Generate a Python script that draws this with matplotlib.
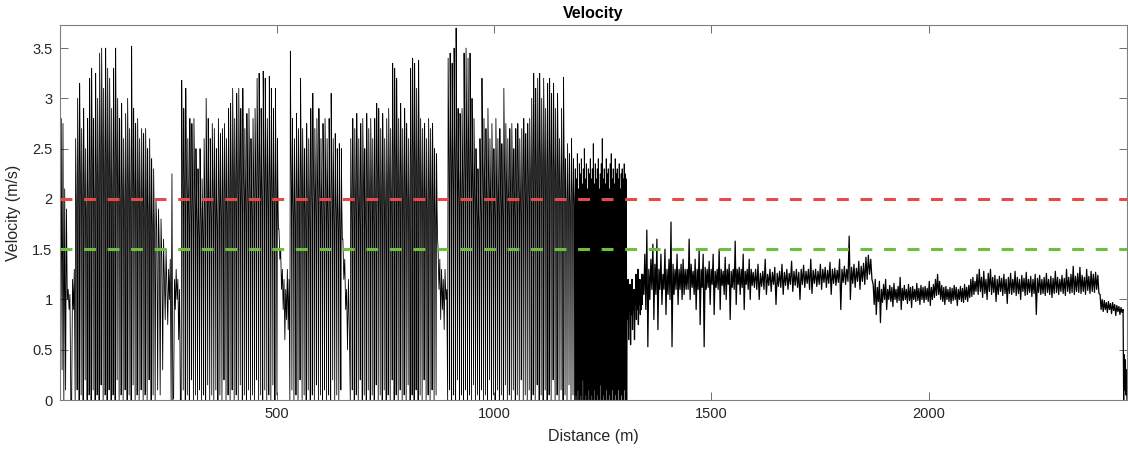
import numpy as np
import matplotlib
matplotlib.use("Agg")
import matplotlib.pyplot as plt

plt.rcParams['font.family'] = ['Liberation Sans', 'DejaVu Sans']

# ---- data: (start distance, end distance) of each recorded stretch and its velocity samples ----
seg_A = (0, 36)
v_A = [2.4, 0, 2.8, 0.3, 2.75, 0, 2.1, 0.1, 1.9, 1.0, 1.1, 0.9, 1.05, 0.0, 0.0, 1.2, 0.9, 1.3]

seg_B = (36, 220)
v_B = [0, 2.6, 2.1, 1.7, 0.1, 3.0, 2.4, 1.9, 0, 3.15, 2.5, 2.0, 0.05, 2.7, 2.2, 1.8,
       0, 2.9, 2.3, 1.9, 0.2, 2.5, 2.0, 1.6, 0, 2.8, 2.2, 1.8, 0.05, 3.2, 2.5, 2.0,
       0, 3.3, 2.6, 2.1, 0.1, 2.8, 2.2, 1.8, 0, 3.25, 2.5, 2.0, 0.05, 3.0, 2.4, 1.9,
       0, 3.45, 2.7, 2.1, 0.15, 3.5, 2.8, 2.2, 0, 3.1, 2.5, 2.0, 0.05, 3.5, 2.7, 2.1,
       0, 3.3, 2.6, 2.0, 0.1, 3.2, 2.5, 1.9, 0, 2.9, 2.3, 1.8, 0.05, 3.3, 2.6, 2.1,
       0, 3.5, 2.7, 2.2, 0.2, 3.0, 2.4, 1.9, 0, 2.8, 2.2, 1.8, 0.05, 2.95, 2.3, 1.9,
       0, 2.6, 2.1, 1.7, 0.1, 2.85, 2.3, 1.8, 0, 3.0, 2.4, 1.9, 0.05, 2.7, 2.2, 1.8,
       0, 3.52, 2.6, 2.0, 0.15, 2.9, 2.3, 1.9, 0, 2.75, 2.2, 1.8, 0.05, 2.8, 2.3, 1.9,
       0, 2.6, 2.1, 1.7, 0.1, 2.7, 2.2, 1.8, 0, 2.65, 2.1, 1.7, 0.05, 2.7, 2.2, 1.8,
       0, 2.5, 2.0, 1.7, 0.2, 2.6, 2.1, 1.6, 0, 2.4, 1.9, 1.6, 0.05, 2.3, 1.9, 1.5]

seg_C = (220, 280)
v_C = [0, 2.0, 1.7, 0.1, 1.9, 1.5, 0.05, 1.8, 1.4, 0.3, 1.6, 1.2, 0.8, 1.5, 1.1, 0.75, 1.3,
       1.0, 1.4, 0, 2.25, 0, 0.02, 1.2, 0.9, 1.3, 1.0, 1.2, 0.6, 1.1, 0]

seg_D = (280, 505)
v_D = [0, 3.18, 2.5, 2.0, 0.1, 2.9, 2.3, 1.9, 0, 3.1, 2.4, 2.0, 0.05, 2.6, 2.1, 1.7,
       0, 2.8, 2.2, 1.8, 0.2, 2.75, 2.2, 1.8, 0, 2.8, 2.3, 1.9, 0.05, 2.5, 2.0, 1.7,
       0, 2.3, 1.9, 1.6, 0.1, 2.5, 2.0, 1.7, 0, 2.2, 1.9, 1.6, 0.05, 2.6, 2.1, 1.7,
       0, 3.0, 2.4, 1.9, 0.15, 2.8, 2.2, 1.8, 0, 2.6, 2.1, 1.8, 0.05, 2.75, 2.3, 1.9,
       0, 2.7, 2.2, 1.8, 0.1, 2.5, 2.0, 1.7, 0, 2.8, 2.3, 1.9, 0.05, 2.65, 2.1, 1.8,
       0, 2.7, 2.2, 1.8, 0.2, 2.75, 2.3, 1.9, 0, 2.6, 2.1, 1.7, 0.05, 2.9, 2.3, 1.9,
       0, 2.95, 2.4, 2.0, 0.1, 3.1, 2.5, 2.0, 0, 2.8, 2.3, 1.9, 0.05, 3.05, 2.4, 2.0,
       0, 3.1, 2.5, 2.0, 0.15, 2.9, 2.3, 1.9, 0, 3.1, 2.4, 2.0, 0.05, 2.7, 2.2, 1.8,
       0, 2.85, 2.3, 1.9, 0.1, 2.9, 2.4, 1.9, 0, 2.6, 2.1, 1.8, 0.05, 2.8, 2.3, 1.9,
       0, 2.9, 2.4, 2.0, 0.2, 3.2, 2.6, 2.1, 0, 3.25, 2.6, 2.1, 0.05, 2.9, 2.3, 1.9,
       0, 3.27, 2.6, 2.1, 0.1, 3.2, 2.5, 2.0, 0, 2.8, 2.3, 1.9, 0.05, 3.22, 2.5, 2.0,
       0, 3.1, 2.4, 1.9, 0.15, 2.9, 2.3, 1.9, 0, 3.1, 2.4, 1.9, 0.05, 2.6, 2.0, 1.7]

seg_E = (505, 530)
v_E = [1.7, 1.4, 1.5, 1.1, 1.3, 0.9, 1.2, 0.6, 1.1, 0.8, 1.3, 0.7, 1.2]

seg_F = (530, 652)
v_F = [0, 3.47, 2.6, 2.1, 0.1, 2.8, 2.2, 1.8, 0, 2.6, 2.1, 1.7, 0.05, 2.85, 2.3, 1.9,
       0, 2.7, 2.2, 1.8, 0.2, 3.2, 2.5, 2.0, 0, 2.7, 2.2, 1.8, 0.05, 2.5, 2.0, 1.7,
       0, 2.75, 2.2, 1.8, 0.1, 2.6, 2.1, 1.7, 0, 2.9, 2.3, 1.9, 0.05, 3.05, 2.4, 2.0,
       0, 2.7, 2.2, 1.8, 0.15, 2.8, 2.3, 1.9, 0, 2.9, 2.3, 1.9, 0.05, 2.6, 2.1, 1.7,
       0, 2.75, 2.2, 1.8, 0.1, 2.8, 2.3, 1.9, 0, 2.6, 2.1, 1.7, 0.05, 2.8, 2.2, 1.8,
       0, 3.05, 2.4, 1.9, 0.2, 2.6, 2.1, 1.7, 0, 2.65, 2.1, 1.8, 0.05, 2.5, 2.0, 1.7,
       0, 2.55, 2.0, 1.6, 0.1, 2.5, 1.9, 1.6]

seg_G = (652, 669)
v_G = [1.6, 1.2, 1.4, 0.9, 1.1, 0.5, 1.2, 0.7]

seg_H = (669, 871)
v_H = [0, 2.6, 2.1, 1.7, 0.1, 2.8, 2.2, 1.8, 0, 2.7, 2.2, 1.8, 0.05, 2.85, 2.3, 1.9,
       0, 2.6, 2.1, 1.7, 0.2, 2.75, 2.2, 1.8, 0, 2.8, 2.3, 1.9, 0.05, 2.5, 2.0, 1.7,
       0, 2.85, 2.3, 1.9, 0.1, 2.7, 2.2, 1.8, 0, 2.8, 2.3, 1.9, 0.05, 2.6, 2.1, 1.7,
       0, 2.8, 2.2, 1.8, 0.15, 2.95, 2.4, 2.0, 0, 2.9, 2.3, 1.9, 0.05, 2.7, 2.2, 1.8,
       0, 2.85, 2.3, 1.9, 0.1, 2.6, 2.1, 1.7, 0, 2.8, 2.3, 1.9, 0.05, 2.9, 2.4, 2.0,
       0, 2.7, 2.2, 1.8, 0.2, 3.35, 2.6, 2.1, 0, 3.3, 2.6, 2.1, 0.05, 3.2, 2.5, 2.0,
       0, 2.8, 2.3, 1.9, 0.1, 2.95, 2.4, 2.0, 0, 2.7, 2.2, 1.8, 0.05, 2.9, 2.3, 1.9,
       0, 2.75, 2.2, 1.8, 0.15, 2.6, 2.1, 1.7, 0, 3.3, 2.6, 2.1, 0.05, 3.4, 2.7, 2.2,
       0, 3.35, 2.6, 2.1, 0.1, 3.1, 2.5, 2.0, 0, 3.38, 2.6, 2.1, 0.05, 2.8, 2.3, 1.9,
       0, 2.7, 2.2, 1.8, 0.2, 2.75, 2.2, 1.8, 0, 2.6, 2.1, 1.7, 0.05, 2.8, 2.3, 1.9,
       0, 2.7, 2.2, 1.8, 0.1, 2.75, 2.2, 1.8, 0, 2.5, 2.0, 1.7, 0.05, 2.45, 1.9, 1.6]

seg_I = (871, 893)
v_I = [1.5, 1.1, 1.4, 0.8, 1.3, 0.9, 1.2, 0.7, 1.3, 1.0, 1.1]

seg_J = (893, 1186)
v_J = [0, 3.4, 2.7, 2.1, 0.1, 3.45, 2.7, 2.2, 0, 3.35, 2.6, 2.1, 0.05, 3.5, 2.7, 2.2,
       0, 3.7, 2.8, 2.2, 0.2, 2.9, 2.3, 1.9, 0, 2.85, 2.3, 1.9, 0.05, 2.9, 2.4, 2.0,
       0, 3.45, 2.7, 2.2, 0.1, 3.5, 2.8, 2.2, 0, 3.4, 2.7, 2.1, 0.05, 3.45, 2.7, 2.2,
       0, 3.0, 2.4, 2.0, 0.15, 2.8, 2.3, 1.9, 0, 2.5, 2.1, 1.8, 0.05, 2.3, 1.9, 1.7,
       0, 2.6, 2.1, 1.8, 0.1, 3.2, 2.5, 2.0, 0, 2.8, 2.3, 1.9, 0.05, 2.7, 2.2, 1.9,
       0, 2.9, 2.4, 2.0, 0.2, 2.6, 2.2, 1.8, 0, 2.75, 2.3, 1.9, 0.05, 2.5, 2.1, 1.8,
       0, 2.8, 2.3, 1.9, 0.1, 2.6, 2.2, 1.8, 0, 2.7, 2.2, 1.9, 0.05, 2.55, 2.1, 1.8,
       0, 3.1, 2.5, 2.0, 0.15, 2.75, 2.3, 1.9, 0, 2.6, 2.2, 1.8, 0.05, 2.7, 2.2, 1.9,
       0, 2.75, 2.3, 1.9, 0.1, 2.5, 2.1, 1.8, 0, 2.7, 2.2, 1.9, 0.05, 2.75, 2.3, 2.0,
       0, 2.6, 2.2, 1.8, 0.2, 2.7, 2.3, 1.9, 0, 2.8, 2.3, 2.0, 0.05, 2.65, 2.2, 1.9,
       0, 2.75, 2.3, 2.0, 0.1, 2.8, 2.4, 2.0, 0, 3.0, 2.5, 2.1, 0.05, 3.25, 2.6, 2.1,
       0, 3.1, 2.5, 2.1, 0.15, 3.2, 2.6, 2.1, 0, 3.25, 2.6, 2.2, 0.05, 3.0, 2.5, 2.1,
       0, 3.2, 2.6, 2.1, 0.1, 2.9, 2.4, 2.0, 0, 3.15, 2.5, 2.1, 0.05, 3.2, 2.6, 2.2,
       0, 3.05, 2.5, 2.1, 0.2, 3.15, 2.5, 2.1, 0, 2.9, 2.4, 2.0, 0.05, 3.05, 2.5, 2.1,
       0, 2.6, 2.3, 2.0, 0.1, 2.9, 2.4, 2.0, 0, 3.21, 2.5, 2.1, 0.05, 2.4, 2.1, 1.9,
       0, 2.55, 2.2, 1.9, 0.15, 2.45, 2.1, 1.9, 0, 2.6, 2.2, 2.0, 0.05, 2.4, 2.1, 1.9]

seg_K = (1186, 1306)
v_K = [0, 2.3, 1.9, 0.05, 2.2, 1.7, 0, 2.45, 2.0, 0.1, 2.1, 1.8, 0, 2.35, 1.9, 0, 2.25, 1.7,
       0.05, 2.4, 2.1, 0, 2.15, 1.8, 0.2, 2.3, 1.9, 0, 2.5, 2.0, 0, 2.2, 1.8, 0.05, 2.35, 1.9,
       0, 2.1, 1.7, 0, 2.3, 2.0, 0.1, 2.25, 1.8, 0, 2.4, 1.9, 0, 2.2, 1.7, 0.05, 2.3, 2.0,
       0, 2.55, 1.9, 0, 2.15, 1.8, 0.1, 2.35, 2.0, 0, 2.2, 1.7, 0, 2.3, 1.9, 0.05, 2.4, 2.0,
       0, 2.1, 1.8, 0, 2.25, 1.9, 0.15, 2.35, 2.0, 0, 2.6, 1.9, 0, 2.2, 1.8, 0.05, 2.3, 1.9,
       0, 2.15, 1.7, 0, 2.4, 2.0, 0.1, 2.25, 1.9, 0, 2.3, 1.8, 0, 2.1, 1.7, 0.05, 2.35, 2.0,
       0, 2.45, 1.9, 0, 2.2, 1.8, 0.1, 2.3, 1.9, 0, 2.15, 1.7, 0, 2.4, 2.0, 0.05, 2.25, 1.9,
       0, 2.3, 1.8, 0, 2.2, 1.9, 0.1, 2.35, 2.0, 0, 2.1, 1.7, 0, 2.25, 1.9, 0.05, 2.3, 2.0,
       0, 2.2, 1.8, 0, 2.35, 1.9, 0.1, 2.25, 2.0, 0, 2.2, 2.1, 0]

seg_L = (1306, 1342)
v_L = [1.1, 0.8, 1.2, 0.6, 1.0, 0.9, 1.15, 0.55, 1.05, 0.85, 1.2, 0.7, 1.0, 0.9, 1.1, 0.6,
       0.95, 1.0, 1.25, 0.8, 1.1, 0.9, 1.3, 0.75, 1.05, 0.95, 1.2, 0.85, 1.1, 0.9, 1.25, 0.95]

seg_M = (1342, 1444)
v_M = [1.25, 1.05, 1.45, 0.9, 1.69, 0.53, 1.3, 1.0, 1.4, 1.1, 1.55, 0.8, 1.35, 1.05, 1.6, 0.7,
       1.3, 1.1, 1.45, 0.95, 1.25, 1.1, 1.5, 0.85, 1.3, 1.05, 1.4, 1.0, 1.77, 0.53, 1.35, 1.05,
       1.3, 1.1, 1.45, 0.95, 1.3, 1.1, 1.35, 1.0, 1.4, 1.05, 1.3, 1.1]

seg_N = (1444, 1596)
v_N = [1.3, 1.1, 1.6, 1.0, 1.35, 1.12, 1.28, 1.05, 1.4, 0.9, 1.3, 1.1, 1.5, 0.75, 1.3, 1.12,
       1.45, 0.53, 1.32, 1.1, 1.3, 1.12, 1.38, 0.95, 1.3, 1.15, 1.45, 0.85, 1.28, 1.12, 1.3, 1.1,
       1.5, 0.9, 1.3, 1.14, 1.28, 1.05, 1.42, 1.0, 1.3, 1.15, 1.35, 0.8, 1.28, 1.12, 1.3, 1.1,
       1.58, 0.95, 1.3, 1.15, 1.32, 1.05, 1.3, 1.12, 1.45, 0.9, 1.28, 1.15, 1.3, 1.1, 1.4, 1.0,
       1.3, 1.14]

seg_O = (1596, 1872)
v_O = [1.27, 1.12, 1.3, 1.1, 1.35, 1.0, 1.26, 1.13, 1.28, 1.1, 1.4, 1.05, 1.25, 1.14, 1.3, 1.08,
       1.27, 1.15, 1.32, 0.95, 1.26, 1.13, 1.28, 1.12, 1.35, 1.05, 1.27, 1.14, 1.3, 1.1,
       1.26, 1.15, 1.38, 1.08, 1.28, 1.14, 1.3, 1.12, 1.27, 1.0, 1.3, 1.15, 1.34, 1.12, 1.28, 1.16,
       1.3, 1.1, 1.4, 1.06, 1.29, 1.16, 1.3, 1.13, 1.28, 1.15, 1.35, 1.1, 1.3, 1.17,
       1.32, 1.12, 1.29, 1.16, 1.37, 1.05, 1.3, 1.16, 1.31, 1.14, 1.29, 1.17, 1.4, 0.9, 1.3, 1.17,
       1.33, 1.15, 1.3, 1.18, 1.63, 1.0, 1.32, 1.16, 1.35, 1.12, 1.31, 1.18, 1.38, 1.1,
       1.33, 1.18, 1.36, 1.15, 1.42, 1.2, 1.44, 1.25, 1.4, 1.2]

seg_P = (1872, 2111)
v_P = [1.15, 0.95, 1.2, 0.85, 1.12, 0.98, 1.18, 0.77, 1.1, 0.97, 1.15, 1.0, 1.2, 0.9, 1.1, 1.0,
       1.14, 0.98, 1.12, 0.93, 1.16, 1.0, 1.1, 0.97, 1.13, 0.99, 1.22, 0.9, 1.11, 0.99,
       1.14, 1.0, 1.1, 0.96, 1.15, 0.99, 1.12, 0.92, 1.13, 1.0, 1.1, 0.98, 1.16, 0.99, 1.11, 0.95,
       1.14, 1.0, 1.12, 0.97, 1.13, 1.0, 1.11, 0.98, 1.18, 0.94, 1.12, 1.0, 1.15, 1.02,
       1.2, 1.04, 1.25, 1.05, 1.18, 1.0, 1.14, 0.98, 1.12, 0.95, 1.13, 1.0, 1.1, 0.98, 1.12, 0.96,
       1.11, 0.99, 1.14, 1.0, 1.12, 0.94, 1.1, 1.0, 1.13, 0.98, 1.11, 0.97, 1.15, 1.0,
       1.12, 0.98, 1.14, 1.02, 1.2, 1.03, 1.22, 1.05, 1.18, 1.08]

seg_Q = (2111, 2394)
v_Q = [1.25, 1.05, 1.3, 1.08, 1.22, 1.02, 1.28, 1.06, 1.2, 1.0, 1.26, 1.08, 1.3, 1.05, 1.22, 1.07,
       1.24, 0.98, 1.2, 1.05, 1.23, 1.08, 1.21, 1.04, 1.25, 1.06, 1.2, 0.96, 1.22, 1.06,
       1.26, 1.05, 1.2, 1.07, 1.28, 1.04, 1.22, 1.06, 1.2, 1.0, 1.24, 1.08, 1.21, 1.04, 1.27, 1.05,
       1.2, 1.07, 1.23, 1.03, 1.2, 1.06, 1.25, 0.85, 1.21, 1.07, 1.24, 1.05, 1.2, 1.06,
       1.22, 1.04, 1.26, 1.07, 1.2, 1.05, 1.23, 1.02, 1.21, 1.06, 1.28, 1.07, 1.22, 1.05, 1.2, 1.08,
       1.24, 1.06, 1.21, 1.04, 1.3, 1.08, 1.22, 1.06, 1.25, 1.07, 1.33, 1.05, 1.23, 1.08,
       1.26, 1.07, 1.32, 1.06, 1.24, 1.08, 1.22, 1.05, 1.3, 1.09, 1.23, 1.06, 1.28, 1.08, 1.25, 1.07,
       1.27, 1.1, 1.24, 1.06]

seg_R = (2394, 2447)
v_R = [1.05, 0.9, 1.0, 0.88, 0.99, 0.9, 0.97, 0.87, 0.98, 0.9, 0.96, 0.86, 0.97, 0.89, 0.95, 0.84,
       0.94, 0.88, 0.93, 0.85, 0.92, 0.87]

seg_S = (2447, 2456)
v_S = [0.9, 0.0, 0.45, 0.1, 0.4, 0.05, 0.3, 0.0]

segments = [(seg_A, v_A), (seg_B, v_B), (seg_C, v_C), (seg_D, v_D), (seg_E, v_E),
            (seg_F, v_F), (seg_G, v_G), (seg_H, v_H), (seg_I, v_I), (seg_J, v_J),
            (seg_K, v_K), (seg_L, v_L), (seg_M, v_M), (seg_N, v_N), (seg_O, v_O),
            (seg_P, v_P), (seg_Q, v_Q), (seg_R, v_R), (seg_S, v_S)]

upper_limit = 2.0   # red dashed threshold
lower_limit = 1.5   # green dashed threshold
split_distance = 1306  # end of the stop-and-go stretch

x_ticks = [500, 1000, 1500, 2000]
y_ticks = [0, 0.5, 1, 1.5, 2, 2.5, 3, 3.5]
y_ticklabels = ['0', '0.5', '1', '1.5', '2', '2.5', '3', '3.5']

# ---- assemble series ----
dist_parts, vel_parts = [], []
for (d0, d1), vals in segments:
    last = (d1 == seg_S[1])
    dist_parts.append(np.linspace(d0, d1, len(vals), endpoint=last))
    vel_parts.append(np.asarray(vals, dtype=float))
distance = np.concatenate(dist_parts)
velocity = np.concatenate(vel_parts)

# ---- figure ----
fig = plt.figure(figsize=(11.28, 4.5), dpi=100)
ax = fig.add_axes([59.5 / 1128, 50 / 450, (1127 - 59.5) / 1128, 375 / 450])

n_left = int(np.searchsorted(distance, split_distance))
ax.plot(distance[:n_left + 1], velocity[:n_left + 1], color='black', lw=0.6, zorder=2)
ax.plot(distance[n_left:], velocity[n_left:], color='black', lw=0.9, zorder=2)
ax.axhline(upper_limit, color='#e84a4a', lw=2.2, dashes=(3.9, 3.8), zorder=3)
ax.axhline(lower_limit, color='#6cc040', lw=2.2, dashes=(3.9, 3.8), zorder=3)

ax.set_xlim(0, 2456)
ax.set_ylim(0, 3.73)
ax.set_xticks(x_ticks)
ax.set_yticks(y_ticks)
ax.set_yticklabels(y_ticklabels)

tick_col = '#262626'
ax.tick_params(axis='both', direction='in', length=6, width=0.6, color='#555555',
               labelsize=10.5, labelcolor=tick_col, top=True, right=True, pad=5)
for sp in ax.spines.values():
    sp.set_color('#808080')
    sp.set_linewidth(0.8)

ax.set_xlabel('Distance (m)', fontsize=11.5, color=tick_col, labelpad=6)
ax.set_ylabel('Velocity (m/s)', fontsize=11.5, color=tick_col, labelpad=8)
ax.set_title('Velocity', fontsize=11.5, fontweight='bold', color='black', pad=5)

fig.savefig('out.png', dpi=100)
